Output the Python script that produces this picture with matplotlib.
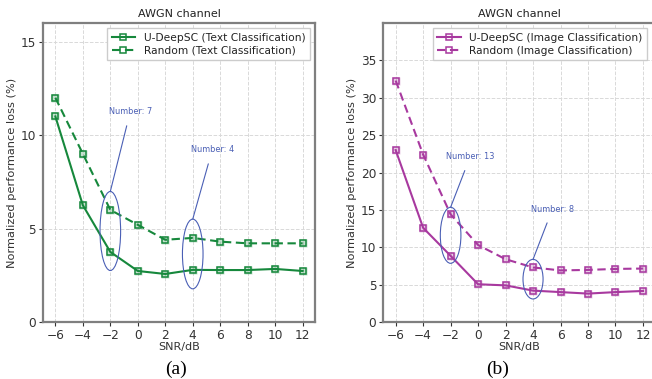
import matplotlib
matplotlib.use("Agg")
import matplotlib.pyplot as plt
from matplotlib.patches import Ellipse

snr = [-6, -4, -2, 0, 2, 4, 6, 8, 10, 12]
text_udeepsc = [11.0, 6.25, 3.75, 2.73, 2.57, 2.79, 2.78, 2.78, 2.84, 2.73]
text_random = [12.0, 9.0, 6.0, 5.2, 4.4, 4.5, 4.3, 4.21, 4.21, 4.21]
img_udeepsc = [23.0, 12.6, 8.85, 5.05, 4.9, 4.2, 4.0, 3.8, 4.0, 4.15]
img_random = [32.3, 22.4, 14.4, 10.3, 8.4, 7.3, 6.9, 6.97, 7.1, 7.15]
xticks = [-6, -4, -2, 0, 2, 4, 6, 8, 10, 12]

GREEN = '#16883c'
PURPLE = '#a8399f'
BLUE = '#4a5fb5'
SPINE = '#7f7f7f'
TICK = '#333333'

fig = plt.figure(figsize=(6.52, 3.79), dpi=100)

def style(ax, ylim, yticks):
    ax.set_xlim(-6.9, 12.9)
    ax.set_ylim(*ylim)
    ax.set_xticks(xticks)
    ax.set_xticklabels([str(t).replace('-', '\u2212') for t in xticks])
    ax.set_yticks(yticks)
    ax.grid(True, linestyle='--', color='#d9d9d9', linewidth=0.7)
    ax.set_axisbelow(True)
    for s in ax.spines.values():
        s.set_color(SPINE)
        s.set_linewidth(1.6)
    ax.tick_params(axis='both', colors=TICK, labelsize=8.7, length=3, width=0.8,
                   direction='out', pad=2)
    ax.set_title('AWGN channel', fontsize=8, color='#222222', pad=4)
    ax.set_xlabel('SNR/dB', fontsize=8, color='#333333', labelpad=0)
    ax.set_ylabel('Normalized performance loss (%)', fontsize=8.2, color='#333333')
    ax.yaxis.set_label_coords(-26 / 272, 0.5)

def plot_series(ax, y, color, ls, label):
    ax.plot(snr, y, color=color, linestyle=ls, linewidth=1.5, marker='s', markersize=5,
            markeredgewidth=1.1, markerfacecolor=(1, 1, 1, 0.0), markeredgecolor=color,
            dashes=(4, 2.2) if ls == '--' else (None, None), label=label)
    ax.plot(snr, y, linestyle='none', marker='s', markersize=6, markerfacecolor=color,
            markeredgecolor='none', alpha=0.25)

def annotate(ax, center, w, h, text, xytext):
    ax.add_patch(Ellipse(center, w, h, fill=False, edgecolor=BLUE, linewidth=0.8, zorder=5))
    ax.annotate(text, xy=(center[0], center[1] + h / 2), xytext=xytext, textcoords='data',
                ha='center', va='center', fontsize=5.9, color=BLUE,
                arrowprops=dict(arrowstyle='-', color=BLUE, lw=0.8, shrinkA=5, shrinkB=0))

legend_kw = dict(loc='upper right', fontsize=7.7, frameon=True, framealpha=1,
                 edgecolor='#cccccc', handlelength=2.2, borderpad=0.4, labelspacing=0.3,
                 fancybox=False, labelcolor='#222222')

# Left panel
ax1 = fig.add_axes([43 / 652, 57 / 379, 272 / 652, 299 / 379])
plot_series(ax1, text_udeepsc, GREEN, '-', 'U-DeepSC (Text Classification)')
plot_series(ax1, text_random, GREEN, '--', 'Random (Text Classification)')
style(ax1, (0, 16), [0, 5, 10, 15])
h1, l1 = ax1.get_legend_handles_labels()
ax1.legend(h1[:2], l1[:2], **legend_kw)
annotate(ax1, (-2, 4.87), 1.5, 4.23, 'Number: 7', (-0.55, 11.25))
annotate(ax1, (4, 3.64), 1.5, 3.73, 'Number: 4', (5.42, 9.21))

# Right panel
ax2 = fig.add_axes([383.3 / 652, 57 / 379, 272 / 652, 299 / 379])
plot_series(ax2, img_udeepsc, PURPLE, '-', 'U-DeepSC (Image Classification)')
plot_series(ax2, img_random, PURPLE, '--', 'Random (Image Classification)')
style(ax2, (0, 40), [0, 5, 10, 15, 20, 25, 30, 35])
h2, l2 = ax2.get_legend_handles_labels()
ax2.legend(h2[:2], l2[:2], bbox_to_anchor=(0.988, 1.0), **legend_kw)
annotate(ax2, (-2, 11.6), 1.5, 7.5, 'Number: 13', (-0.58, 22.1))
annotate(ax2, (4, 5.73), 1.46, 5.3, 'Number: 8', (5.41, 15.1))

fig.text(176 / 652, 1 - 369 / 379, '(a)', fontsize=14, family='Liberation Serif', ha='center', va='center')
fig.text(498 / 652, 1 - 369 / 379, '(b)', fontsize=14, family='Liberation Serif', ha='center', va='center')

fig.savefig('out.png', dpi=100)
